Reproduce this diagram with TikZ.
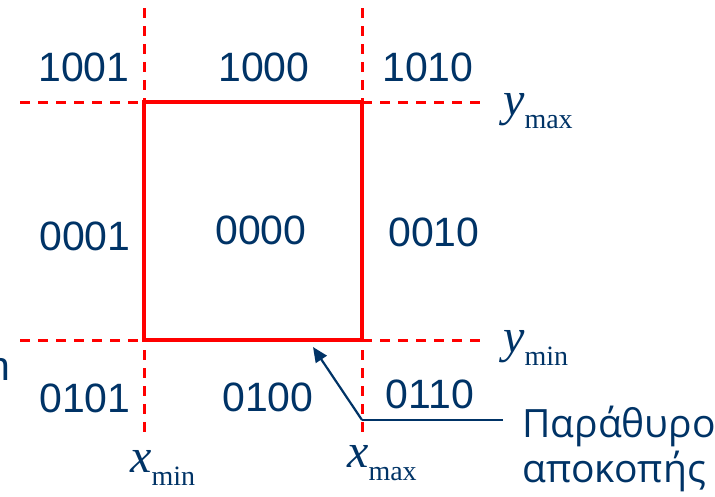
\documentclass[tikz,border=0pt]{standalone}
\usepackage{fontspec}
\setmainfont{Liberation Sans}
\newfontfamily\tnr{Liberation Serif}
\newfontfamily\grk{Open Sans}
\usepackage{tikz}
\usetikzlibrary{arrows.meta}

\definecolor{navy}{RGB}{0,51,102}
\newcommand{\bound}[2]{{\tnr\fontsize{48}{48}\selectfont\itshape #1}\raisebox{-13pt}{\tnr\fontsize{28}{28}\selectfont #2}}

\begin{document}
\begin{tikzpicture}[x=1pt, y=-1pt,
  code/.style={text=navy, font=\fontsize{41}{49}\selectfont, inner sep=0pt},
  bnd/.style={text=navy, anchor=base west, inner sep=0pt},
  guide/.style={red, line width=3pt, dash pattern=on 10pt off 8pt},
  win/.style={red, line width=3.2pt},
  arr/.style={-{Triangle[length=15pt, width=13pt]}, navy, line width=2.2pt}
]
\useasboundingbox (0,0) rectangle (715,496);
% clip lines
\draw[guide] (144,8) -- (144,433);
\draw[guide] (362,8) -- (362,433);
\draw[guide] (20,102) -- (482,102);
\draw[guide] (20,340) -- (483,340);
\draw[win] (144,102) rectangle (362,340);
% region codes
\node[code] (c1001) at (84,67)   {1001};
\node[code] (c1000) at (264,67)  {1000};
\node[code] (c1010) at (428,67)  {1010};
\node[code] (c0001) at (85,236)  {0001};
\node[code] (c0000) at (261,230) {0000};
\node[code] (c0010) at (434,232) {0010};
\node[code] (c0101) at (85,398)  {0101};
\node[code] (c0100) at (268,397) {0100};
\node[code] (c0110) at (430,394) {0110};
% bounds
\node[bnd] (ymax) at (503,115) {\bound{y}{max}};
\node[bnd] (ymin) at (503,352) {\bound{y}{min}};
\node[bnd] (xmin) at (130,472) {\bound{x}{min}};
\node[bnd] (xmax) at (347,467) {\bound{x}{max}};
\node[text=navy, anchor=base east, inner sep=0pt, font=\fontsize{41}{49}\selectfont] (cut) at (11,380) {n};
% window label
\node[text=navy, anchor=base west, inner sep=0pt, font=\grk\fontsize{39}{45}\selectfont] (wina) at (522,437) {Παράθυρο};
\node[text=navy, anchor=base west, inner sep=0pt, font=\grk\fontsize{39}{45}\selectfont] (winb) at (522,482) {αποκοπής};
\coordinate (bend) at (362,420);
\coordinate (tip) at (313,347);
\coordinate (lend) at (503,420);
\draw[navy, line width=2.2pt] (lend) -- (bend);
\draw[arr] (bend) -- (tip);
\end{tikzpicture}
\end{document}
